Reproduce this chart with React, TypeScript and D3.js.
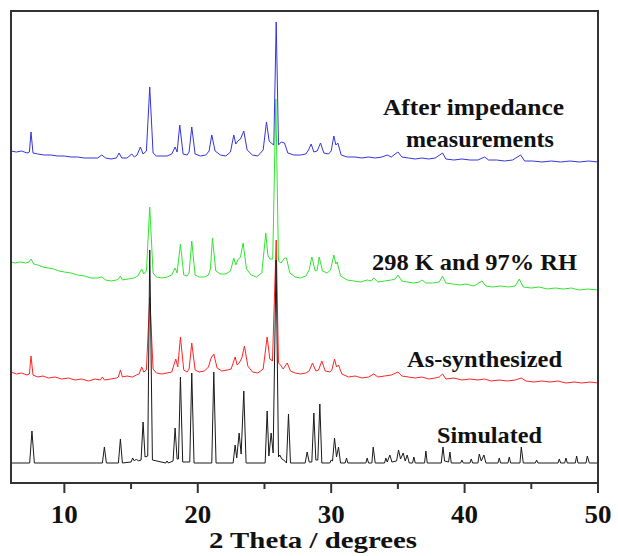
import React from "react";
import * as d3 from "d3";

// 2θ (degrees) vs. offset intensity (arbitrary units)
const simulated: [number, number][] = [
  [6.0, 20], [7.4, 20], [7.57, 52], [7.75, 20],
  [12.85, 20], [13.0, 36], [13.15, 20],
  [14.05, 20], [14.2, 44], [14.35, 20],
  [15.0, 21], [15.12, 25], [15.25, 22], [15.4, 24], [15.55, 22],
  [15.75, 23], [15.9, 61], [16.05, 26], [16.25, 27], [16.4, 233], [16.6, 23],
  [17.6, 20], [17.7, 22], [17.8, 20],
  [18.15, 22], [18.3, 55], [18.45, 24], [18.55, 24], [18.7, 106], [18.87, 21],
  [19.4, 21], [19.55, 110], [19.72, 20],
  [21.05, 20], [21.2, 111], [21.37, 20],
  [22.65, 20], [22.8, 38], [22.92, 25], [23.1, 50], [23.25, 29], [23.45, 92], [23.62, 20],
  [25.05, 20], [25.2, 72], [25.33, 27], [25.5, 50], [25.65, 30], [25.87, 223], [26.05, 26],
  [26.15, 28], [26.3, 24], [26.45, 23], [26.65, 20], [26.8, 69], [26.95, 20],
  [28.05, 20], [28.2, 31], [28.35, 21], [28.55, 21], [28.7, 70], [28.85, 23], [29.0, 23], [29.15, 79], [29.3, 20],
  [29.9, 20], [30.0, 23], [30.1, 22], [30.25, 45], [30.4, 26], [30.55, 36], [30.7, 20],
  [31.05, 20], [31.15, 25], [31.25, 20],
  [32.6, 20], [32.7, 25], [32.8, 20], [33.05, 20], [33.15, 36], [33.3, 20],
  [34.0, 20], [34.1, 25], [34.2, 21], [34.4, 28], [34.55, 21], [34.9, 22], [35.05, 33], [35.2, 24],
  [35.4, 30], [35.55, 22], [35.7, 28], [35.85, 20], [36.1, 20], [36.2, 26], [36.3, 20],
  [37.0, 20], [37.1, 32], [37.2, 20], [38.25, 20], [38.38, 36], [38.5, 22], [38.8, 21], [38.9, 31], [39.0, 20],
  [39.7, 20], [39.8, 23], [39.9, 20], [40.4, 20], [40.5, 24], [40.6, 20], [41.0, 20], [41.1, 29],
  [41.25, 22], [41.45, 28], [41.6, 20],
  [42.5, 20], [42.6, 25], [42.7, 20], [43.25, 20], [43.35, 26], [43.45, 20], [44.15, 20], [44.25, 36], [44.4, 20],
  [45.3, 20], [45.4, 23], [45.5, 20], [47.0, 20], [47.1, 24], [47.2, 20], [47.5, 20], [47.6, 25], [47.7, 20],
  [48.3, 20], [48.4, 27], [48.5, 20], [49.1, 20], [49.2, 27], [49.35, 20], [50.0, 20],
];

const asSynthesized: [number, number][] = [
  [6.0, 111], [6.4, 109], [6.8, 110], [7.2, 108], [7.38, 109], [7.5, 127], [7.65, 108], [8.0, 106],
  [8.4, 107], [8.8, 105], [9.3, 106], [9.8, 104], [10.3, 105], [10.8, 103], [11.3, 104], [11.8, 102],
  [12.3, 104], [12.7, 103], [12.85, 106], [13.0, 103], [13.5, 104], [13.9, 105], [14.05, 106], [14.2, 113],
  [14.35, 106], [14.7, 107], [15.1, 106], [15.4, 108], [15.6, 109], [15.8, 116], [15.95, 111], [16.15, 113],
  [16.4, 186], [16.65, 114], [16.9, 110], [17.3, 109], [17.7, 110], [18.05, 111], [18.35, 124], [18.5, 116],
  [18.7, 146], [18.95, 113], [19.2, 111], [19.35, 114], [19.55, 140], [19.8, 113], [20.1, 111], [20.5, 112],
  [20.8, 116], [21.0, 125], [21.2, 129], [21.45, 115], [21.8, 112], [22.2, 113], [22.5, 114], [22.8, 126],
  [22.95, 118], [23.1, 120], [23.3, 125], [23.5, 137], [23.75, 117], [24.1, 111], [24.5, 110], [24.9, 114],
  [25.2, 146], [25.4, 124], [25.6, 122], [25.88, 243], [26.05, 120], [26.2, 118], [26.4, 114], [26.7, 120],
  [26.95, 112], [27.3, 110], [27.7, 109], [28.1, 110], [28.35, 112], [28.6, 120], [28.85, 112], [29.05, 113],
  [29.3, 122], [29.55, 112], [29.9, 111], [30.05, 113], [30.25, 124], [30.4, 116], [30.55, 118], [30.8, 109],
  [31.3, 106], [31.8, 107], [32.3, 105], [32.8, 106], [33.2, 109], [33.5, 106], [34.0, 107], [34.5, 108],
  [35.0, 111], [35.3, 107], [35.8, 106], [36.3, 105], [36.8, 106], [37.3, 104], [37.8, 105], [38.1, 106],
  [38.35, 109], [38.6, 104], [39.2, 105], [39.8, 103], [40.4, 104], [41.0, 103], [41.5, 104], [42.0, 102],
  [42.6, 103], [43.2, 102], [43.8, 103], [44.25, 105], [44.6, 102], [45.2, 101], [45.8, 102], [46.4, 101],
  [47.0, 102], [47.6, 100], [48.2, 101], [48.8, 100], [49.4, 101], [50.0, 100],
];

const humid: [number, number][] = [
  [6.0, 221], [6.3, 220], [6.7, 221], [7.1, 220], [7.35, 221], [7.5, 224], [7.7, 219], [8.0, 218],
  [8.4, 216], [8.8, 215], [9.2, 214], [9.6, 212], [10.0, 211], [10.5, 210], [11.0, 208], [11.5, 207],
  [12.0, 205], [12.5, 205], [12.8, 206], [13.1, 203], [13.5, 202], [13.9, 203], [14.05, 204], [14.2, 207],
  [14.35, 203], [14.8, 204], [15.2, 205], [15.5, 207], [15.8, 214], [15.95, 209], [16.15, 212], [16.4, 276],
  [16.65, 210], [16.9, 206], [17.3, 205], [17.7, 206], [18.05, 208], [18.3, 215], [18.45, 210], [18.7, 239],
  [18.95, 208], [19.2, 207], [19.35, 210], [19.55, 242], [19.8, 208], [20.1, 206], [20.5, 206], [20.8, 208],
  [20.95, 214], [21.1, 245], [21.35, 212], [21.7, 209], [22.1, 209], [22.45, 212], [22.7, 225], [22.85, 218],
  [23.0, 223], [23.2, 226], [23.4, 240], [23.65, 214], [24.0, 208], [24.4, 206], [24.8, 210], [25.1, 250],
  [25.25, 228], [25.4, 224], [25.62, 224], [25.85, 384], [26.05, 222], [26.25, 220], [26.5, 225], [26.65, 225],
  [26.9, 210], [27.3, 206], [27.7, 205], [28.1, 207], [28.35, 213], [28.55, 226], [28.8, 212], [28.95, 213],
  [29.1, 226], [29.35, 212], [29.7, 210], [29.95, 213], [30.2, 228], [30.35, 219], [30.45, 221], [30.7, 207],
  [31.2, 203], [31.7, 202], [32.2, 201], [32.7, 203], [33.0, 202], [33.2, 205], [33.5, 201], [34.0, 202],
  [34.5, 203], [34.8, 204], [35.0, 208], [35.3, 202], [35.7, 201], [36.2, 200], [36.6, 201], [36.8, 203],
  [37.1, 200], [37.6, 200], [38.1, 201], [38.35, 207], [38.6, 200], [39.1, 199], [39.6, 198], [40.1, 199],
  [40.7, 197], [41.3, 202], [41.6, 197], [42.1, 196], [42.7, 197], [43.3, 196], [43.8, 197], [44.1, 204],
  [44.4, 196], [45.0, 195], [45.6, 196], [46.2, 194], [46.8, 195], [47.4, 194], [48.0, 195], [48.6, 193],
  [49.2, 194], [50.0, 193],
];

const afterImpedance: [number, number][] = [
  [6.0, 332], [6.4, 331], [6.8, 332], [7.2, 330], [7.38, 331], [7.5, 351], [7.65, 330], [8.0, 329],
  [8.5, 328], [9.0, 328], [9.5, 327], [10.0, 327], [10.5, 326], [11.0, 326], [11.5, 325], [12.0, 325],
  [12.5, 325], [12.8, 328], [13.1, 325], [13.5, 324], [13.9, 325], [14.1, 330], [14.3, 325], [14.7, 325],
  [15.05, 329], [15.25, 326], [15.45, 328], [15.7, 336], [15.9, 329], [16.15, 332], [16.4, 396], [16.65, 330],
  [16.9, 327], [17.3, 327], [17.7, 327], [18.05, 329], [18.3, 336], [18.45, 331], [18.65, 358], [18.9, 329],
  [19.2, 328], [19.35, 331], [19.55, 356], [19.8, 329], [20.2, 327], [20.6, 328], [20.85, 332], [21.05, 348],
  [21.3, 332], [21.7, 328], [22.1, 327], [22.45, 331], [22.7, 348], [22.85, 339], [23.0, 342], [23.2, 344],
  [23.45, 352], [23.7, 333], [24.1, 328], [24.5, 327], [24.9, 333], [25.15, 361], [25.35, 342], [25.5, 340],
  [25.7, 338], [25.88, 461], [26.05, 338], [26.25, 341], [26.5, 340], [26.75, 330], [27.2, 328], [27.7, 328],
  [28.1, 329], [28.3, 333], [28.5, 339], [28.7, 331], [28.95, 332], [29.2, 340], [29.45, 330], [29.8, 329],
  [30.0, 332], [30.2, 347], [30.35, 338], [30.5, 340], [30.75, 328], [31.2, 326], [31.8, 326], [32.3, 325],
  [32.8, 326], [33.3, 325], [33.8, 326], [34.2, 328], [34.5, 326], [35.0, 331], [35.3, 326], [35.8, 325],
  [36.3, 324], [36.8, 325], [37.3, 324], [37.8, 325], [38.35, 330], [38.6, 324], [39.2, 323], [39.8, 324],
  [40.4, 323], [41.0, 323], [41.5, 326], [41.8, 323], [42.4, 323], [43.0, 322], [43.6, 323], [44.2, 328],
  [44.5, 322], [45.1, 322], [45.8, 321], [46.5, 322], [47.2, 321], [47.9, 322], [48.6, 321], [49.3, 322],
  [50.0, 321],
];

const majorTicks = [10, 20, 30, 40, 50];
const minorTicks = [15, 25, 35, 45];
const xTitle = "2 Theta / degrees";

// drawn in this order (first is at the back)
const seriesList = [
  { name: "After impedance", data: afterImpedance, color: "#3434e0", label: ["After impedance", "measurements"], lx: [383, 406], ly: [115, 147], lw: [181, 148] },
  { name: "298 K and 97% RH", data: humid, color: "#2ee62e", label: ["298 K and 97% RH"], lx: [372], ly: [270], lw: [205] },
  { name: "As-synthesized", data: asSynthesized, color: "#ff2424", label: ["As-synthesized"], lx: [407], ly: [367], lw: [155] },
  { name: "Simulated", data: simulated, color: "#1a1a1a", label: ["Simulated"], lx: [437], ly: [443], lw: [105] },
];

const W = 618, H = 556;
const left = 11, right = 598, top = 11, bottom = 483;
const font = "'Liberation Serif', 'Times New Roman', serif";

export default function App() {
  const x = d3.scaleLinear().domain([6, 50]).range([left, right]);
  const y = d3.scaleLinear().domain([0, 472]).range([bottom, top]);
  const line = d3.line<[number, number]>().x((d) => x(d[0])).y((d) => y(d[1]));

  return (
    <svg width={W} height={H} style={{ position: "absolute", left: 0, top: 0, background: "#fff" }}>
      <defs>
        <clipPath id="plot">
          <rect x={left} y={top} width={right - left} height={bottom - top} />
        </clipPath>
      </defs>
      <g clipPath="url(#plot)">
        {seriesList.map((s) => (
          <path key={s.name} d={line(s.data) || ""} fill="none" stroke={s.color} strokeWidth={1} strokeLinejoin="round" />
        ))}
      </g>
      <rect x={left} y={top} width={right - left} height={bottom - top} fill="none" stroke="#333" strokeWidth={2} />
      {majorTicks.map((t) => (
        <g key={"M" + t}>
          <line x1={x(t)} x2={x(t)} y1={bottom} y2={bottom + 10} stroke="#333" strokeWidth={2} />
          <text x={x(t) - 13.5} y={523} textLength={27} lengthAdjust="spacingAndGlyphs" fontFamily={font} fontWeight="bold" fontSize={26} fill="#111">
            {t}
          </text>
        </g>
      ))}
      {minorTicks.map((t) => (
        <line key={"m" + t} x1={x(t)} x2={x(t)} y1={bottom} y2={bottom + 6} stroke="#333" strokeWidth={2} />
      ))}
      <text x={209} y={548} textLength={208} lengthAdjust="spacingAndGlyphs" fontFamily={font} fontWeight="bold" fontSize={24} fill="#111">
        {xTitle}
      </text>
      {seriesList.map((s) =>
        s.label.map((l, i) => (
          <text key={s.name + i} x={s.lx[i]} y={s.ly[i]} textLength={s.lw[i]} lengthAdjust="spacingAndGlyphs" fontFamily={font} fontWeight="bold" fontSize={23} fill="#111">
            {l}
          </text>
        ))
      )}
    </svg>
  );
}
